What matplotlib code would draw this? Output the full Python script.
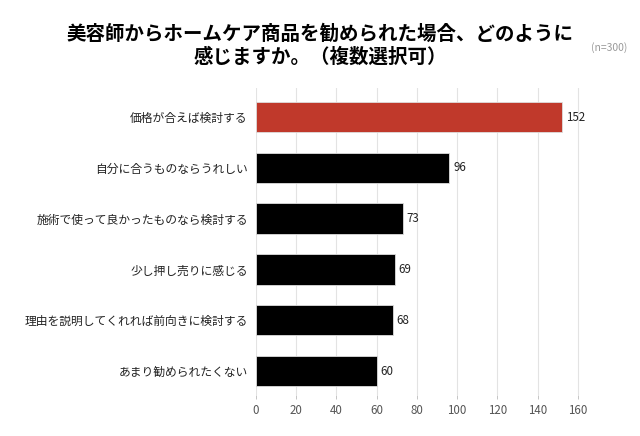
import matplotlib
matplotlib.use("Agg")
import matplotlib.pyplot as plt

plt.rcParams['font.family'] = ['Noto Sans CJK JP', 'DejaVu Sans']

labels = ['価格が合えば検討する', '自分に合うものならうれしい', '施術で使って良かったものなら検討する',
          '少し押し売りに感じる', '理由を説明してくれれば前向きに検討する', 'あまり勧められたくない']
values = [152, 96, 73, 69, 68, 60]
colors = ['#c0392b', '#000000', '#000000', '#000000', '#000000', '#000000']
xticks = [0, 20, 40, 60, 80, 100, 120, 140, 160]

fig = plt.figure(figsize=(6.4, 4.36), dpi=100)
ax = fig.add_axes([0.4, 0.094, 0.55, 0.704])

y = list(range(len(labels)))
ax.barh(y, values, height=0.6, color=colors, edgecolor='#dddddd', linewidth=0.6, zorder=3)
for yi, v in zip(y, values):
    ax.text(v + 2, yi, str(v), va='center', ha='left', fontsize=8.3, color='#222222')

ax.set_yticks(y)
ax.set_yticklabels(labels, fontsize=8.5, color='#222222')
ax.set_ylim(len(labels) - 0.528, -0.571)
ax.set_xlim(0, 175)
ax.set_xticks(xticks)
ax.tick_params(axis='x', labelsize=8.3, colors='#555555', length=3, width=0.6, color='#bbbbbb')
ax.tick_params(axis='y', length=0, pad=6)
ax.grid(axis='x', color='#e3e3e3', linewidth=0.8, zorder=0)
for s in ax.spines.values():
    s.set_visible(False)

fig.text(0.5, 0.895, '美容師からホームケア商品を勧められた場合、どのように\n感じますか。（複数選択可）',
         ha='center', va='center', fontsize=14, fontweight='bold', linespacing=1.2)
fig.text(0.981, 0.892, '(n=300)', ha='right', va='center', fontsize=7.5, color='#999999')

fig.savefig('out.png', dpi=100)
